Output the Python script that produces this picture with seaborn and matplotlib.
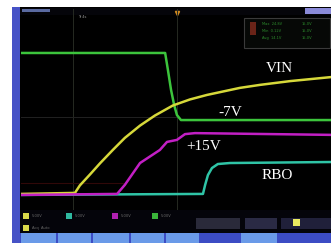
import numpy as np
import pandas as pd
import matplotlib
matplotlib.use("Agg")
import matplotlib.pyplot as plt
from matplotlib.patches import Rectangle
import seaborn as sns

# traces, in divisions (x: 0..10, y: 0..8)
vin_t = [0, 1.74, 1.90, 2.23, 2.55, 2.97, 3.35, 3.84, 4.32, 4.90, 5.45, 6.00, 7.06, 7.71, 8.68, 10]
vin_v = [0.64, 0.68, 0.98, 1.42, 1.86, 2.40, 2.87, 3.36, 3.76, 4.16, 4.40, 4.58, 4.86, 4.98, 5.13, 5.29]

neg7_t = [0, 4.65, 4.74, 4.84, 4.94, 5.03, 5.16, 5.45, 10]
neg7_v = [6.25, 6.25, 5.57, 4.78, 4.18, 3.78, 3.58, 3.58, 3.58]

pos15_t = [0, 3.10, 3.35, 3.84, 4.48, 4.71, 5.03, 5.29, 5.61, 10]
pos15_v = [0.60, 0.64, 1.00, 1.87, 2.39, 2.71, 2.79, 3.02, 3.06, 2.99]

rbo_t = [0, 5.87, 5.94, 6.03, 6.16, 6.35, 6.74, 10]
rbo_v = [0.60, 0.64, 1.00, 1.39, 1.67, 1.83, 1.87, 1.91]

trace_names = ["RBO", "-7V", "VIN", "+15V"]
trace_colors = ["#2fc4a6", "#3cc43c", "#d6d83a", "#c21fc4"]

frames = []
for name, t, v in [("RBO", rbo_t, rbo_v), ("-7V", neg7_t, neg7_v),
                   ("VIN", vin_t, vin_v), ("+15V", pos15_t, pos15_v)]:
    frames.append(pd.DataFrame({"t": t, "v": v, "trace": name}))
df = pd.concat(frames, ignore_index=True)

label_pos = {"VIN": (8.35, 5.65), "-7V": (6.74, 3.90), "+15V": (5.90, 2.51), "RBO": (8.26, 1.39)}

W, H = 331, 243
fig = plt.figure(figsize=(W / 100, H / 100), dpi=100)
fig.patch.set_facecolor("white")

# screen decoration in pixel coordinates
bg = fig.add_axes([0, 0, 1, 1])
bg.set_xlim(0, W)
bg.set_ylim(H, 0)
bg.axis("off")

def box(x0, y0, x1, y1, color, **kw):
    bg.add_patch(Rectangle((x0, y0), x1 - x0, y1 - y0, facecolor=color, edgecolor="none", **kw))

box(12, 7, W, H, "black")
box(12, 7, 20, H, "#4652c6")
# top status strip
box(20, 8, W, 15, "#05050a")
box(22, 9, 50, 12, "#5a6aa0")
box(305, 8, W, 14, "#8a8ad8")
bg.text(78, 17, "Tr 4s", color="#9a9a9a", fontsize=2.6, va="center")
bg.plot([177], [13], marker="v", color="#d08a20", ms=3)
# measurement box
bg.add_patch(Rectangle((244, 18), 86, 30, facecolor="#060806", edgecolor="#3a3a3a", lw=0.8))
box(250, 22, 256, 35, "#6a2418")
for i, s in enumerate(["Max  24.8V", "Min  0.12V", "Avg  14.1V"]):
    bg.text(262, 24 + i * 7, s, color="#2c8a2c", fontsize=2.6, va="center")
    bg.text(302, 24 + i * 7, "15.0V", color="#2c8a2c", fontsize=2.6, va="center")
# bottom status rows
box(20, 210, W, 233, "#04040a")
chan_marks = [(23, "#d8d84a"), (66, "#2fb8a0"), (112, "#b020b0"), (152, "#3ab43a")]
for x, c in chan_marks:
    box(x, 213, x + 6, 219, c)
    bg.text(x + 9, 216, "5.00V", color="#6a6a6a", fontsize=2.6, va="center")
box(23, 225, 29, 231, "#d8d84a")
bg.text(32, 228, "Acq  Auto", color="#6a6a6a", fontsize=2.6, va="center")
box(196, 218, 240, 229, "#2a2a3a")
box(245, 218, 277, 229, "#2a2a44")
box(281, 218, W, 229, "#20203a")
box(293, 219, 300, 226, "#eaea60")
# soft keys
box(20, 233, W, H, "#3c4cc4")
for x0, x1 in [(21, 56), (58, 91), (93, 129), (131, 164), (166, 199), (241, 277)]:
    box(x0, 233, x1, H, "#6a9ae8")

# scope traces
ax = fig.add_axes([21 / W, (H - 210) / H, 310 / W, 201 / H])
ax.set_facecolor("none")
sns.lineplot(data=df, x="t", y="v", hue="trace", hue_order=trace_names,
             palette=trace_colors, estimator=None, sort=False, legend=False,
             linewidth=1.8, ax=ax)
for line in ax.get_lines():
    line.set_solid_joinstyle("round")
for t in [1.68, 5.03]:
    ax.axvline(t, color="#262a22", lw=0.7, zorder=0)
ax.axhline(3.70, xmax=0.51, color="#222222", lw=0.7, zorder=0)
ax.axhline(1.08, xmax=0.33, color="#300808", lw=0.8, zorder=0)
ax.set_xlim(0, 10)
ax.set_ylim(0, 8)
ax.axis("off")

for name, (x, y) in label_pos.items():
    ax.text(x, y, name, color="white", fontsize=11, family="Liberation Serif",
            ha="center", va="center")

fig.savefig("out.png", dpi=100)
